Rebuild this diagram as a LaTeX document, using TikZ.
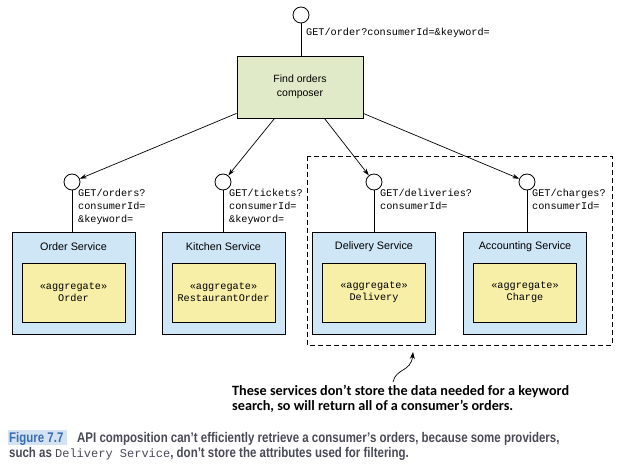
\documentclass[tikz,border=0pt]{standalone}
\usepackage{fontspec}
\setmainfont{Liberation Sans}
\newfontfamily\monof{Liberation Mono}
\newfontfamily\annf{Carlito}
\newfontfamily\capf[FakeStretch=0.82]{Liberation Sans}
\usetikzlibrary{arrows.meta}
\definecolor{compgreen}{HTML}{E0EAC8}
\definecolor{svcblue}{HTML}{CFE6F7}
\definecolor{aggyellow}{HTML}{F7EFA8}
\definecolor{figblue}{HTML}{3A6CB0}
\definecolor{fighl}{HTML}{D3E3F3}
\definecolor{capgray}{HTML}{4A4A57}
\tikzset{
  port/.style={circle, draw, fill=white, line width=0.8pt, minimum size=16pt, inner sep=0pt},
  composerbox/.style={draw, fill=compgreen, line width=0.8pt, minimum width=126pt, minimum height=62pt, align=center, font=\fontsize{10.5}{13.5}\selectfont, inner sep=0pt},
  svcbox/.style={draw, fill=svcblue, line width=0.8pt, minimum width=123pt, minimum height=102pt, inner sep=0pt},
  aggbox/.style={draw, fill=aggyellow, line width=0.8pt, minimum width=103pt, minimum height=59pt, inner sep=0pt, align=center, font=\monof\fontsize{10.2}{12}\selectfont},
  svctitle/.style={font=\fontsize{10.8}{12}\selectfont, inner sep=0pt},
  apilabel/.style={anchor=north west, align=left, inner sep=0pt, font=\monof\fontsize{10.2}{13}\selectfont},
  callarrow/.style={line width=0.7pt, -{Stealth[length=7pt,width=4.5pt]}},
  stem/.style={line width=0.8pt},
  captext/.style={anchor=north west, inner sep=0pt, font=\capf\bfseries\fontsize{14}{15.5}\selectfont},
}
\begin{document}
\begin{tikzpicture}[x=1pt,y=-1pt]
\useasboundingbox (0,0) rectangle (625,468);
% dashed group
\draw[line width=0.8pt, dash pattern=on 5pt off 3pt] (307,156) rectangle (612,345);

% top
\node[port] (c0) at (301,15) {};
\node[composerbox] (comp) at (300,87) {Find orders\\composer};
\draw[stem] (c0) -- (comp.north -| c0);
\node[apilabel] (l0) at (306,28) {GET/order?consumerId=\&keyword=};

% ports
\node[port] (c1) at (72,182) {};
\node[port] (c2) at (223,182) {};
\node[port] (c3) at (374,182) {};
\node[port] (c4) at (527,182) {};

\draw[callarrow] (comp) -- (c1);
\draw[callarrow] (comp) -- (c2);
\draw[callarrow] (comp) -- (c3);
\draw[callarrow] (comp) -- (c4);

% services
\node[svcbox] (s1) at (73.5,283) {};
\node[svcbox] (s2) at (223.5,283) {};
\node[svcbox] (s3) at (374,283) {};
\node[svcbox] (s4) at (525,283) {};

\draw[stem] (c1) -- (s1.north -| c1);
\draw[stem] (c2) -- (s2.north -| c2);
\draw[stem] (c3) -- (s3.north -| c3);
\draw[stem] (c4) -- (s4.north -| c4);

\node[svctitle] (t1) at (73.5,247) {Order Service};
\node[svctitle] (t2) at (223.5,247) {Kitchen Service};
\node[svctitle] (t3) at (374,247) {Delivery Service};
\node[svctitle] (t4) at (525,247) {Accounting Service};

\node[aggbox] (a1) at (73.5,292.5) {«aggregate»\\Order};
\node[aggbox] (a2) at (223.5,292.5) {«aggregate»\\RestaurantOrder};
\node[aggbox] (a3) at (374,292.5) {«aggregate»\\Delivery};
\node[aggbox] (a4) at (525,292.5) {«aggregate»\\Charge};

\node[apilabel] (l1) at (78,189) {GET/orders?\\consumerId=\\\&keyword=};
\node[apilabel] (l2) at (229,189) {GET/tickets?\\consumerId=\\\&keyword=};
\node[apilabel] (l3) at (380,189) {GET/deliveries?\\consumerId=};
\node[apilabel] (l4) at (532,189) {GET/charges?\\consumerId=};

% annotation
\coordinate (tail) at (393,382);
\coordinate (tip) at (413,352);
\draw[line width=0.7pt, -{Stealth[length=7pt,width=5pt]}] (tail) .. controls (396,368) and (411,372) .. (tip);
\node[anchor=north west, align=left, inner sep=0pt, font=\annf\bfseries\fontsize{14.2}{14.5}\selectfont] (ann) at (232,385)
  {These services don’t store the data needed for a keyword\\search, so will return all of a consumer’s orders.};

% caption
\fill[fighl] (8,430) rectangle (67,445);
\node[captext, text=figblue] (fig) at (9,432) {Figure 7.7};
\node[captext, text=capgray] (cap1) at (77,432)
  {API composition can’t efficiently retrieve a consumer’s orders, because some providers,};
\node[captext, text=capgray] (cap2) at (9,447.5)
  {such as {\monof\mdseries\fontsize{12}{15}\selectfont Delivery Service}, don’t store the attributes used for filtering.};
\end{tikzpicture}
\end{document}
